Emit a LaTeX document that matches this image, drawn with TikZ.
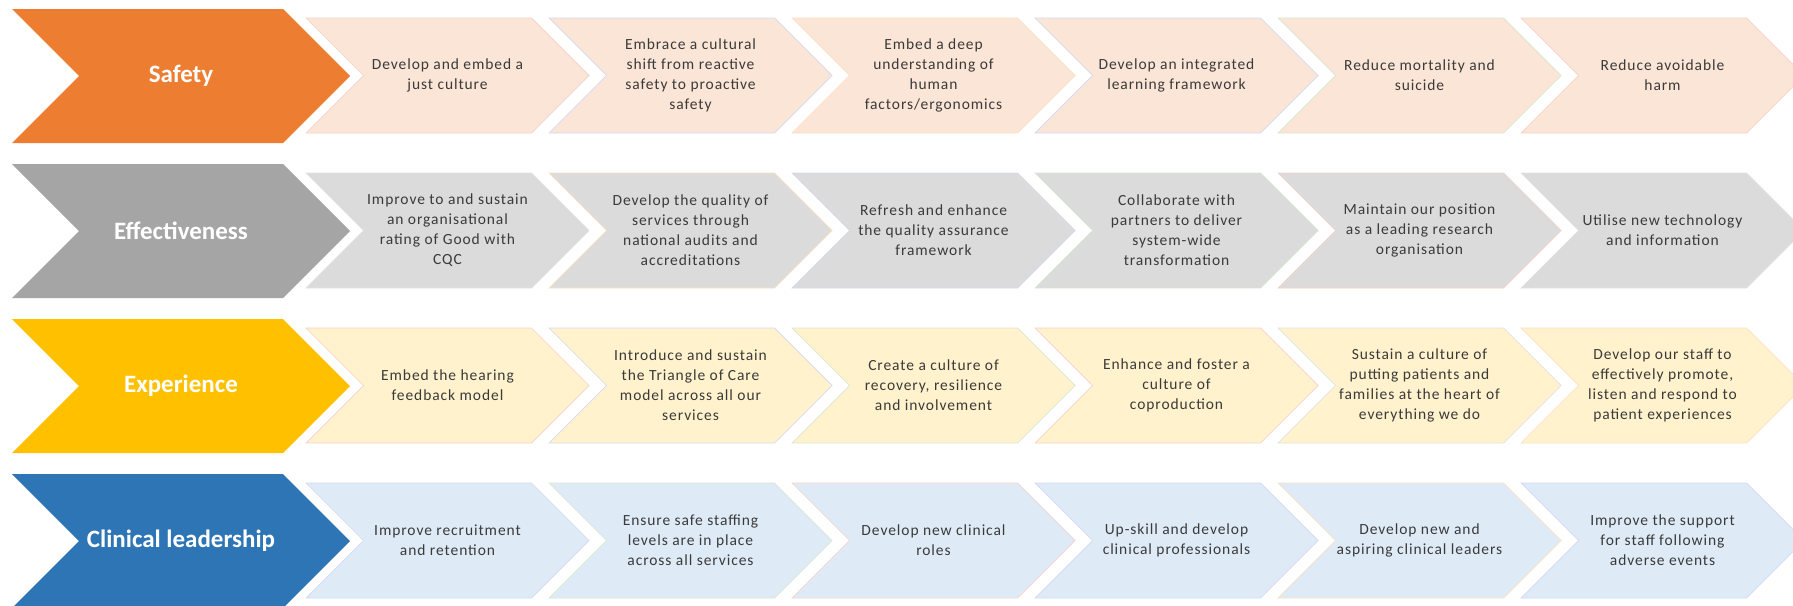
\documentclass[tikz,border=0pt]{standalone}
\usepackage{fontspec}
\setmainfont{Carlito}
\newfontfamily\stepfont[LetterSpace=6]{Carlito}
\definecolor{safetyC}{HTML}{ED7D31}
\definecolor{safetyL}{HTML}{FBE5D6}
\definecolor{effectC}{HTML}{A5A5A5}
\definecolor{effectL}{HTML}{DBDBDB}
\definecolor{experC}{HTML}{FFC000}
\definecolor{experL}{HTML}{FFF2CC}
\definecolor{leadC}{HTML}{2E75B6}
\definecolor{leadL}{HTML}{DEEBF7}
\definecolor{subtextC}{HTML}{3A3A3A}
% faint outline tints of the step chevrons
\definecolor{bPink}{HTML}{F6D2CB}
\definecolor{bLav}{HTML}{D5DAF0}
\definecolor{bOrg}{HTML}{FBE2C2}
\definecolor{bGrn}{HTML}{D8E8D0}
\definecolor{bGry}{HTML}{E2E2E2}
\tikzset{
  headtext/.style={text=white, font=\fontsize{25}{29}\selectfont\bfseries, align=center, inner sep=0pt},
  subtext/.style={text=subtextC, font=\stepfont\fontsize{15.5}{20}\selectfont, align=center, inner sep=0pt},
  chevline/.style={line width=0.7pt, line join=miter},
}
% theme chevron: #1 name, #2 top y, #3 fill, #4 label
\newcommand{\headchev}[4]{%
  \fill[#3] (12,#2) -- ++(271,0) -- ++(67,67) -- ++(-67,67) -- ++(-271,0) -- ++(67,-67) -- cycle;
  \node[headtext] (#1) at (181,#2+67) {#4};
}
% step chevron: #1 name, #2 left x, #3 top y, #4 fill, #5 outline, #6 label
\newcommand{\stepchev}[6]{%
  \filldraw[chevline, fill=#4, draw=#5] (#2,#3) -- ++(225.5,0) -- ++(57.5,57.5) -- ++(-57.5,57.5) -- ++(-225.5,0) -- ++(57.5,-57.5) -- cycle;
  \node[subtext] (#1) at (#2+141.5,#3+57.5) {#6};
}
\begin{document}
\begin{tikzpicture}[x=1pt, y=-1pt]
\clip (0,0) rectangle (1793,605);
\fill[white] (0,0) rectangle (1793,605);

% Safety
\headchev{safety}{9}{safetyC}{Safety}
\stepchev{s1}{306}{18}{safetyL}{bPink}{Develop and embed a\\just culture}
\stepchev{s2}{549}{18}{safetyL}{bLav}{Embrace a cultural\\shift from reactive\\safety to proactive\\safety}
\stepchev{s3}{792}{18}{safetyL}{bOrg}{Embed a deep\\understanding of\\human\\factors/ergonomics}
\stepchev{s4}{1035}{18}{safetyL}{bLav}{Develop an integrated\\learning framework}
\stepchev{s5}{1278}{18}{safetyL}{bGrn}{Reduce mortality and\\suicide}
\stepchev{s6}{1521}{18}{safetyL}{bPink}{Reduce avoidable\\harm}

% Effectiveness
\headchev{effect}{164}{effectC}{Effectiveness}
\stepchev{e1}{306}{173}{effectL}{bGry}{Improve to and sustain\\an organisational\\rating of Good with\\CQC}
\stepchev{e2}{549}{173}{effectL}{bOrg}{Develop the quality of\\services through\\national audits and\\accreditations}
\stepchev{e3}{792}{173}{effectL}{bLav}{Refresh and enhance\\the quality assurance\\framework}
\stepchev{e4}{1035}{173}{effectL}{bGrn}{Collaborate with\\partners to deliver\\system-wide\\transformation}
\stepchev{e5}{1278}{173}{effectL}{bPink}{Maintain our position\\as a leading research\\organisation}
\stepchev{e6}{1521}{173}{effectL}{bGry}{Utilise new technology\\and information}

% Experience
\headchev{exper}{319}{experC}{Experience}
\stepchev{x1}{306}{328}{experL}{bPink}{Embed the hearing\\feedback model}
\stepchev{x2}{549}{328}{experL}{bLav}{Introduce and sustain\\the Triangle of Care\\model across all our\\services}
\stepchev{x3}{792}{328}{experL}{bGrn}{Create a culture of\\recovery, resilience\\and involvement}
\stepchev{x4}{1035}{328}{experL}{bPink}{Enhance and foster a\\culture of\\coproduction}
\stepchev{x5}{1278}{328}{experL}{bGry}{Sustain a culture of\\putting patients and\\families at the heart of\\everything we do}
\stepchev{x6}{1521}{328}{experL}{bOrg}{Develop our staff to\\effectively promote,\\listen and respond to\\patient experiences}

% Clinical leadership
\headchev{lead}{474}{leadC}{Clinical leadership}
\stepchev{l1}{306}{483}{leadL}{bLav}{Improve recruitment\\and retention}
\stepchev{l2}{549}{483}{leadL}{bGrn}{Ensure safe staffing\\levels are in place\\across all services}
\stepchev{l3}{792}{483}{leadL}{bPink}{Develop new clinical\\roles}
\stepchev{l4}{1035}{483}{leadL}{bLav}{Up-skill and develop\\clinical professionals}
\stepchev{l5}{1278}{483}{leadL}{bOrg}{Develop new and\\aspiring clinical leaders}
\stepchev{l6}{1521}{483}{leadL}{bLav}{Improve the support\\for staff following\\adverse events}
\end{tikzpicture}
\end{document}
